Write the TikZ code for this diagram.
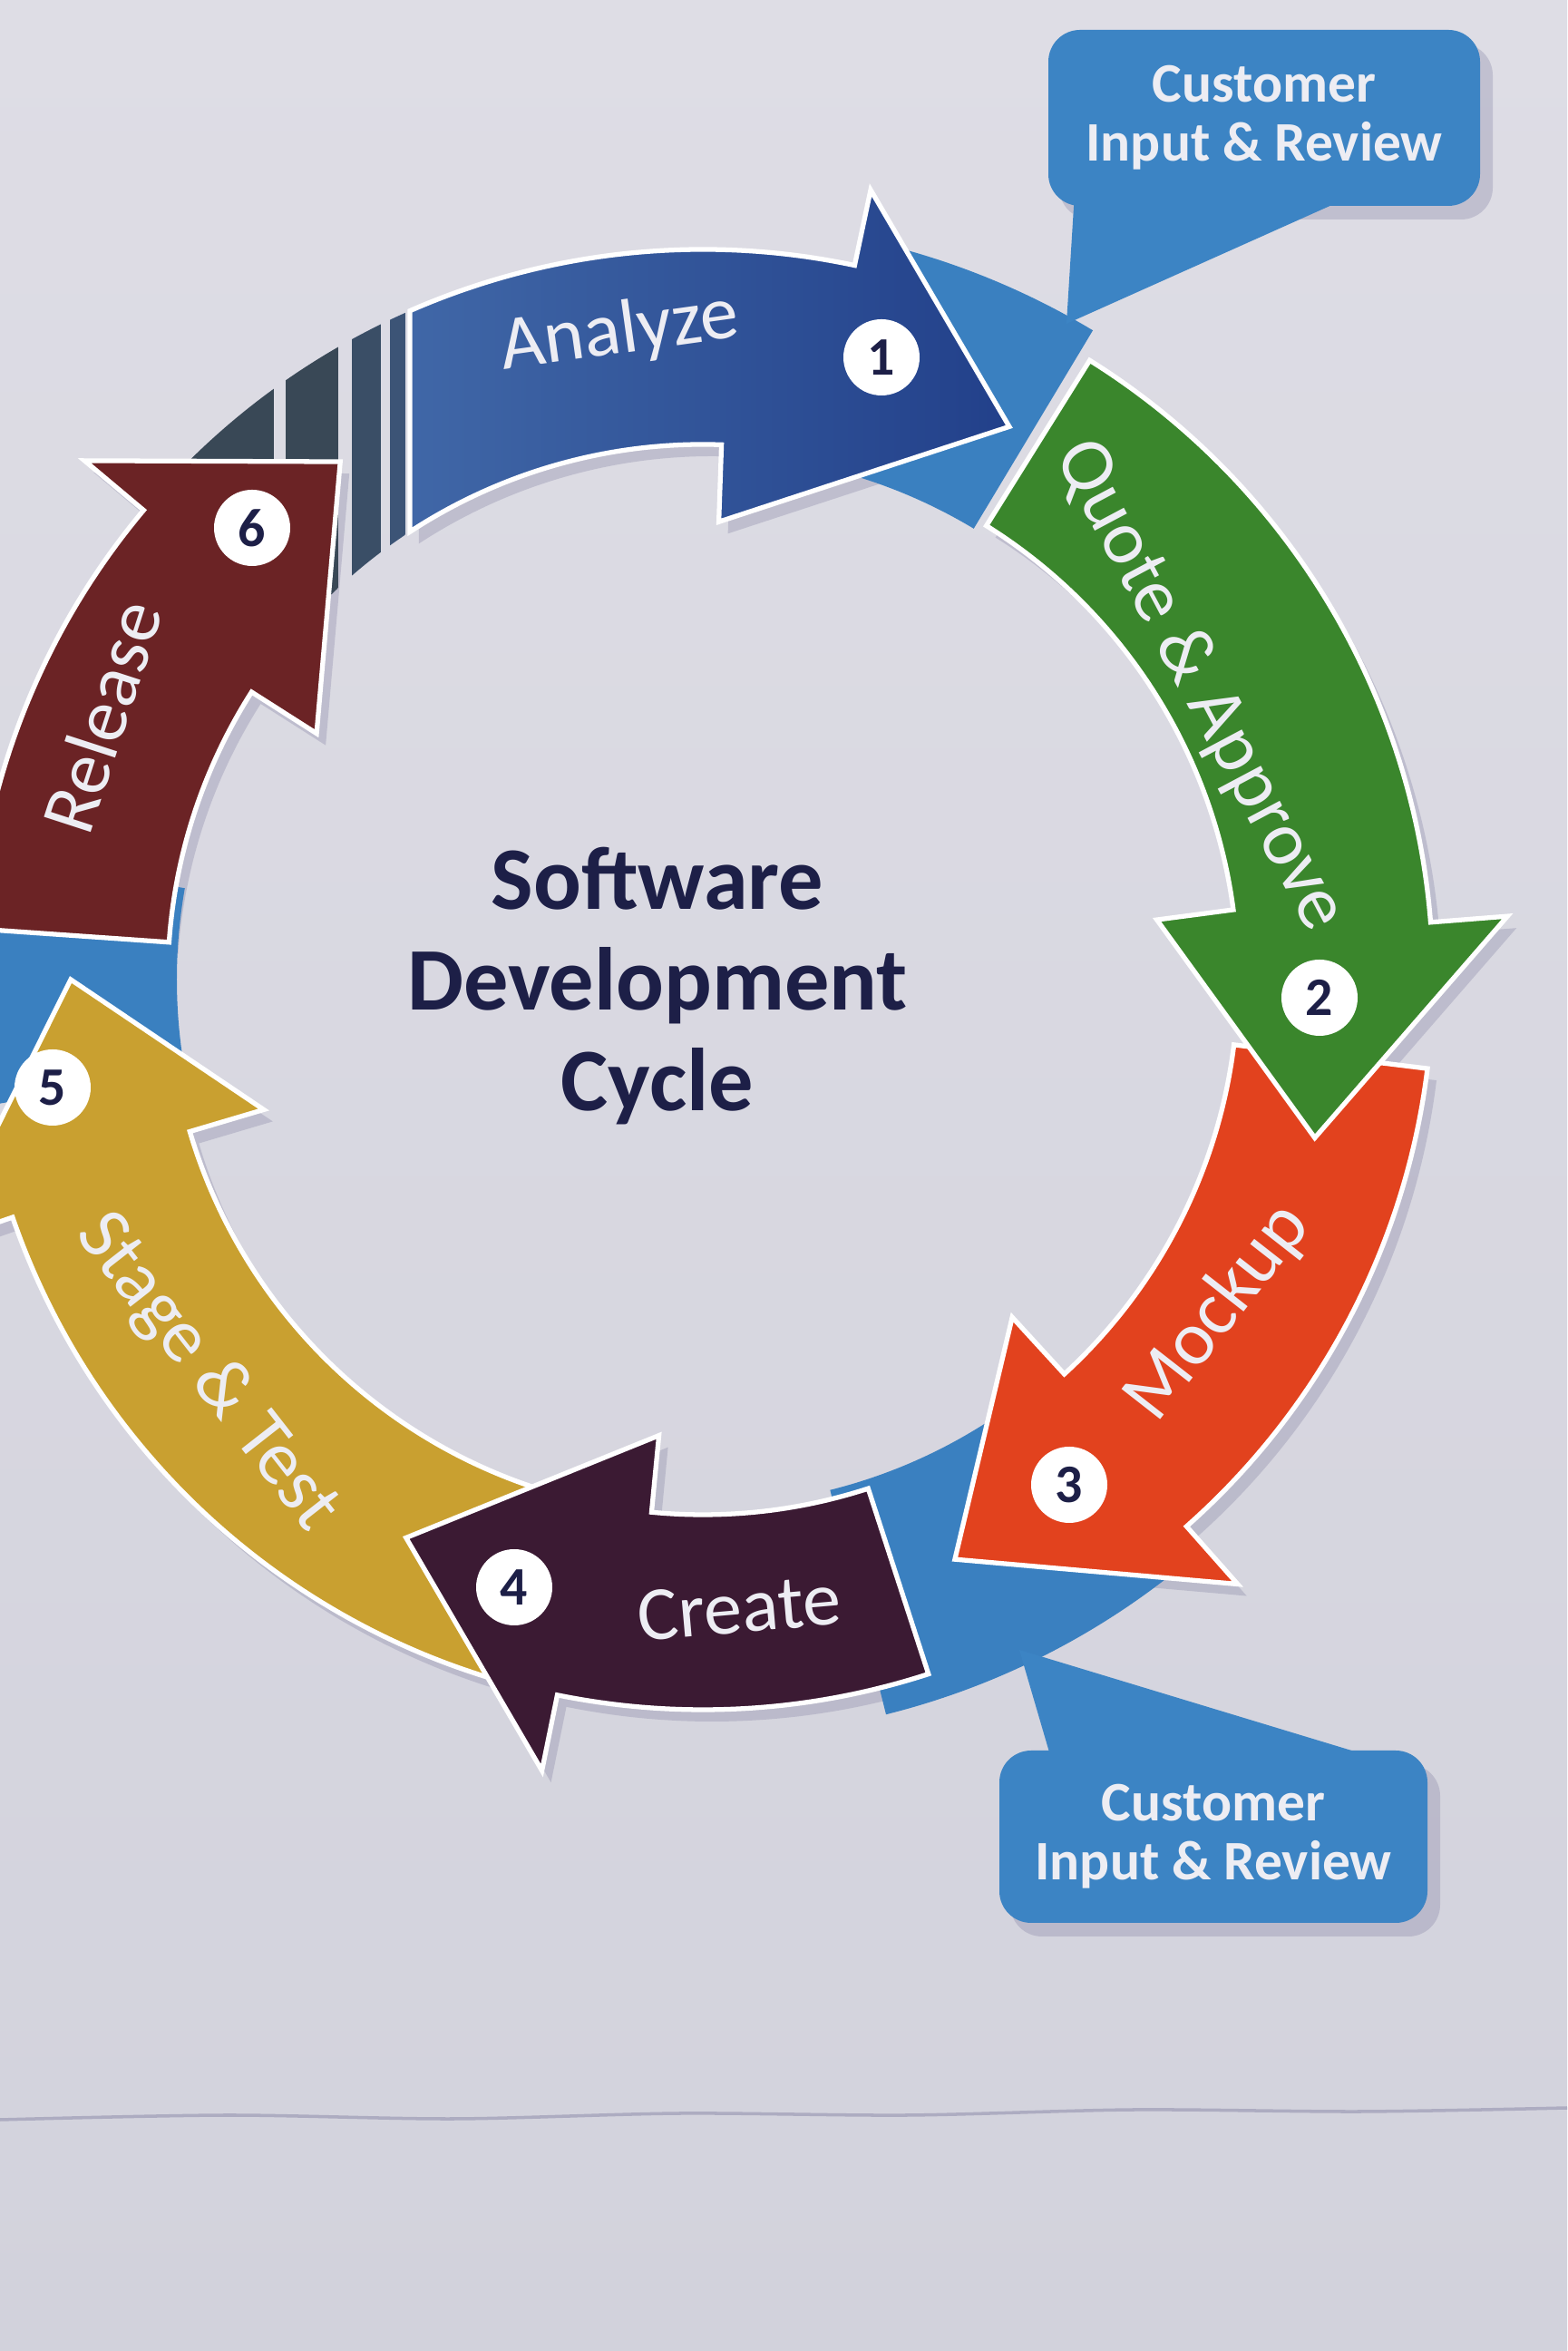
\documentclass[tikz,border=0pt]{standalone}
\usepackage{fontspec}
\setmainfont{Carlito}

% ring geometry
\def\rOut{8.05cm}
\def\rIn{5.9cm}
\def\rBo{8.9cm}
\def\rBi{5.05cm}
\def\rTip{6.97cm}
\def\rBase{8.35cm}
\def\rBaseIn{5.8cm}

% curved arrow along the ring: tail (outer, inner), head back (outer, inner), tip
\newcommand\ringarrow[5]{(#1:\rOut) arc[start angle=#1,end angle=#3,radius=\rOut] -- (#3:\rBo) -- (#5:\rTip) -- (#4:\rBi) -- (#4:\rIn) arc[start angle=#4,end angle=#2,radius=\rIn] -- cycle}
% annulus sector: from angle, to angle, outer radius, inner radius
\newcommand\ringsector[4]{(#1:#3) arc[start angle=#1,end angle=#2,radius=#3] -- (#2:#4) arc[start angle=#2,end angle=#1,radius=#4] -- cycle}

\definecolor{paperTop}{HTML}{DEDDE5}
\definecolor{paperBot}{HTML}{D2D2DC}
\definecolor{anaL}{HTML}{4067A7}
\definecolor{anaR}{HTML}{22408A}
\definecolor{stripecol}{HTML}{394856}
\definecolor{quotecol}{HTML}{3A862C}
\definecolor{mockcol}{HTML}{E2421E}
\definecolor{createcol}{HTML}{3B1A33}
\definecolor{stagecol}{HTML}{C9A030}
\definecolor{releasecol}{HTML}{6B2325}
\definecolor{basecol}{HTML}{3A80C0}
\definecolor{callcol}{HTML}{3C84C4}
\definecolor{labeltext}{HTML}{EDEDF3}
\definecolor{darktext}{HTML}{1D1F47}
\definecolor{shadecol}{HTML}{7F7DA0}

\tikzset{
  arrowedge/.style={draw=white, line width=1.5pt, line join=miter},
  arrowshadow/.style={fill=shadecol, opacity=0.3},
  lbl/.style={text=labeltext, font=\fontsize{24}{28}\selectfont, inner sep=0pt},
  num/.style={circle, fill=white, text=darktext, minimum size=0.84cm, inner sep=0pt,
    font=\bfseries\fontsize{17}{17}\selectfont},
  titletext/.style={text=darktext, align=center, font=\bfseries\fontsize{28}{31.5}\selectfont},
  callbox/.style={fill=callcol, rounded corners=0.35cm, text=labeltext, align=center,
    font=\bfseries\fontsize{17.5}{18.5}\selectfont},
  callshadow/.style={fill=shadecol, opacity=0.3, rounded corners=0.35cm}
}

\begin{document}
\begin{tikzpicture}
\useasboundingbox (0,0) rectangle (17.28,25.92);
\clip (0,0) rectangle (17.28,25.92);

% paper
\shade[top color=paperTop, bottom color=paperBot] (0,0) rectangle (17.28,25.92);
\draw[color=shadecol!45!paperBot, line width=1pt] plot[smooth] coordinates
  {(0,2.55) (2.5,2.6) (5,2.56) (7.5,2.62) (10,2.6) (12.5,2.66) (15,2.64) (17.28,2.68)};

\begin{scope}[shift={(7.75,15.12)}]
  % soft drop shadows
  \foreach \a/\b/\c/\d/\e in {113.65/123.2/78/88/61, 58/58/4.5/7.5/-14.5,
      -7/-7/-48.5/-47.5/-66.5, -72/-72/-101.5/-95.5/-118,
      -106/-106/-161/-163.5/-180, 176/176/140/147.5/125}
    \fill[arrowshadow, shift={(0.1,-0.13)}] \ringarrow{\a}{\b}{\c}{\d}{\e};

  % blue review ring showing at the junctions
  \fill[basecol] \ringsector{76}{59}{\rBase}{\rBaseIn};
  \fill[basecol] \ringsector{-52}{-76}{\rBase}{\rBaseIn};
  \fill[basecol] \ringsector{190}{170}{8.2cm}{\rBaseIn};

  % striped tail of the Analyze arrow
  \begin{scope}
    \clip \ringsector{148}{108}{\rOut}{\rIn};
    \fill[stripecol] (-6.75,0) rectangle (-4.73,9);
    \fill[stripecol] (-4.60,0) rectangle (-4.02,9);
    \fill[stripecol!80!anaL] (-3.87,0) rectangle (-3.55,9);
    \fill[stripecol!60!anaL] (-3.45,0) rectangle (-3.28,9);
  \end{scope}

  % the six phase arrows
  \path[arrowedge, left color=anaL, right color=anaR] \ringarrow{113.65}{123.2}{78}{88}{61};
  \path[arrowedge, fill=mockcol] \ringarrow{-7}{-7}{-48.5}{-47.5}{-66.5};
  \path[arrowedge, fill=quotecol] \ringarrow{58}{58}{4.5}{7.5}{-14.5};
  \path[arrowedge, fill=stagecol] \ringarrow{-106}{-106}{-161}{-163.5}{-180};
  \path[arrowedge, fill=createcol] \ringarrow{-72}{-72}{-101.5}{-95.5}{-118};
  \path[arrowedge, fill=releasecol] \ringarrow{176}{176}{140}{147.5}{125};
\end{scope}

% phase labels
\node[lbl, rotate=8] (analyze) at (6.83,22.25) {Analyze};
\node[lbl, rotate=-62] (quote) at (13.23,18.36) {Quote \& Approve};
\node[lbl, rotate=52] (mockup) at (13.43,11.45) {Mockup};
\node[lbl, rotate=5] (create) at (8.15,8.19) {Create};
\node[lbl, rotate=-52] (stage) at (2.28,10.79) {Stage \& Test};
\node[lbl, rotate=72] (release) at (1.12,18.02) {Release};

% step numbers
\node[num] (n1) at (9.72,21.98) {1};
\node[num] (n2) at (14.55,14.92) {2};
\node[num] (n3) at (11.79,9.55) {3};
\node[num] (n4) at (5.67,8.42) {4};
\node[num] (n5) at (0.58,13.93) {5};
\node[num] (n6) at (2.78,20.10) {6};

% centre title
\node[titletext] (title) at (7.25,15.05) {Software\\Development\\Cycle};

% customer review callouts
\coordinate (tipTop) at (11.76,22.35);
\coordinate (tipBot) at (11.24,7.73);
\fill[callshadow] (11.68,23.50) rectangle (16.46,25.44);
\fill[callshadow] (11.14,4.57) rectangle (15.88,6.47);
\fill[callcol] (11.85,23.8) -- (15.0,23.8) -- (tipTop) -- cycle;
\fill[callcol] (11.60,6.5) -- (15.30,6.5) -- (tipBot) -- cycle;
\node[callbox, minimum width=4.76cm, minimum height=1.94cm] (cTop) at (13.94,24.62) {Customer\\Input \& Review};
\node[callbox, minimum width=4.72cm, minimum height=1.9cm] (cBot) at (13.38,5.67) {Customer\\Input \& Review};
\end{tikzpicture}
\end{document}
